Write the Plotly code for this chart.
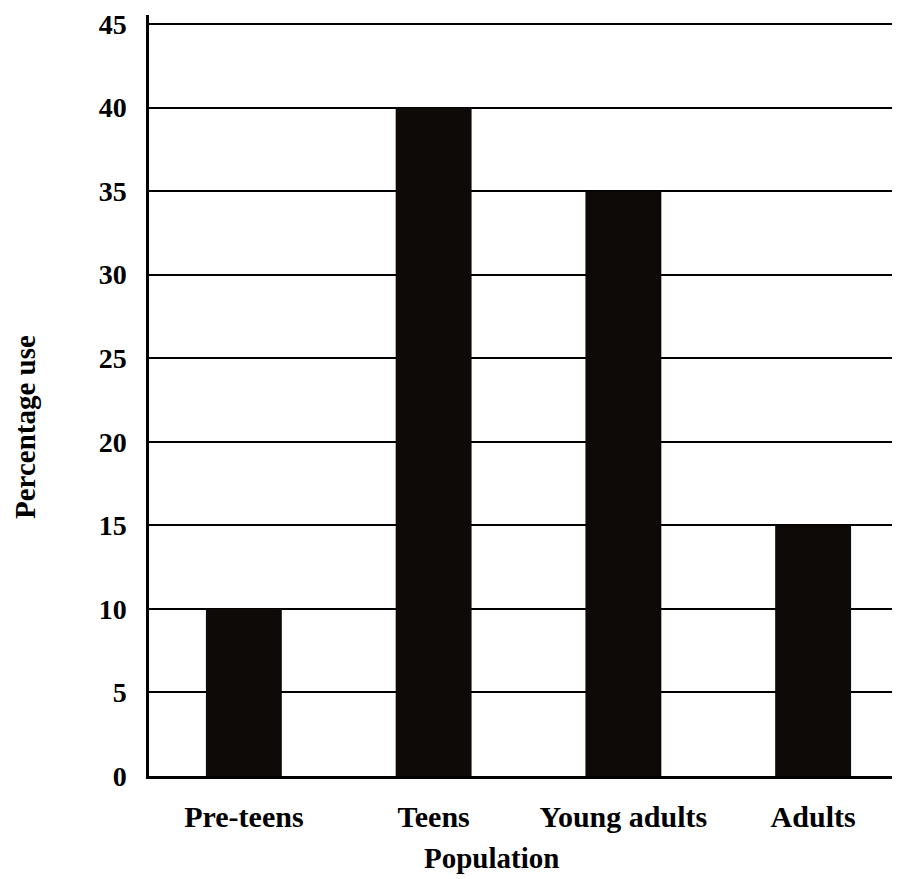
import plotly.graph_objects as go

categories = ["Pre-teens", "Teens", "Young adults", "Adults"]
values = [10, 40, 35, 15]
y_ticks = [0, 5, 10, 15, 20, 25, 30, 35, 40, 45]

FONT = "Liberation Serif"
L, T, B = 141, 7, 111
W, H = 900, 879
PW = W - L
PH = H - T - B

fig = go.Figure()
fig.add_trace(go.Bar(
    x=categories, y=values, width=0.4,
    marker=dict(color="#0d0a08", line=dict(width=0)),
    showlegend=False,
))

fig.update_layout(
    width=W, height=H,
    margin=dict(l=L, r=0, t=T, b=B),
    paper_bgcolor="white", plot_bgcolor="white",
    font=dict(family=FONT, color="black"),
    annotations=[
        dict(text="Population", xref="paper", yref="paper",
             x=(483 - L) / PW, y=-(850 - (T + PH)) / PH,
             xanchor="center", yanchor="middle", showarrow=False,
             font=dict(family=FONT, size=29, weight="bold", color="black")),
        dict(text="Percentage use", xref="paper", yref="paper",
             x=(17 - L) / PW, y=((T + PH) - 419) / PH,
             xanchor="center", yanchor="middle", showarrow=False, textangle=-90,
             font=dict(family=FONT, size=29, weight="bold", color="black")),
    ],
)
fig.update_xaxes(
    range=[-0.5, 3.5], showgrid=False, showline=True, linecolor="black", linewidth=2.5,
    ticks="", ticklabelstandoff=12,
    tickfont=dict(family=FONT, size=30, weight="bold", color="black"),
)
fig.update_yaxes(
    range=[0, 45.54], tickvals=y_ticks, showgrid=True, gridcolor="black", gridwidth=1.6,
    zeroline=False, showline=True, linecolor="black", linewidth=2.5,
    ticks="", ticklabelstandoff=14,
    tickfont=dict(family=FONT, size=28, weight="bold", color="black"),
)

fig.write_html("out.html")
